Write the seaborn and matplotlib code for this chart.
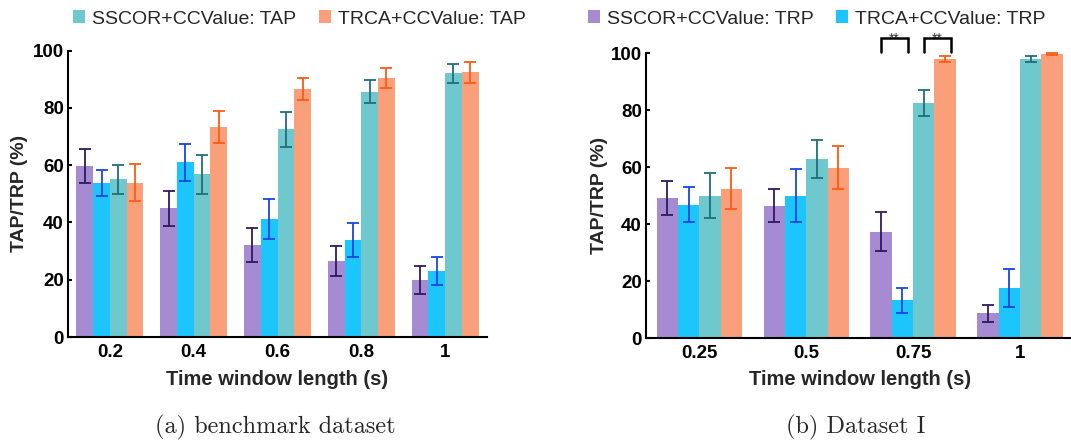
import matplotlib
matplotlib.use("Agg")
import matplotlib.pyplot as plt
import matplotlib.patches as mpatches
import numpy as np
import pandas as pd
import seaborn as sns

# ---- data -------------------------------------------------------------
methods = ["SSCOR+CCValue: TRP", "TRCA+CCValue: TRP",
           "SSCOR+CCValue: TAP", "TRCA+CCValue: TAP"]

# (a) benchmark dataset
windows_a = ["0.2", "0.4", "0.6", "0.8", "1"]
sscor_trp_a = [59.8, 45.0, 32.1, 26.6, 19.9]
trca_trp_a = [53.9, 61.0, 41.2, 33.9, 23.1]
sscor_tap_a = [55.1, 56.8, 72.5, 85.7, 92.1]
trca_tap_a = [53.9, 73.5, 86.6, 90.4, 92.5]
sscor_trp_err_a = [6.0, 6.1, 5.9, 5.3, 4.9]
trca_trp_err_a = [4.6, 6.5, 6.9, 6.0, 5.0]
sscor_tap_err_a = [5.1, 6.9, 6.1, 4.0, 3.4]
trca_tap_err_a = [6.5, 5.6, 3.7, 3.5, 3.7]

# (b) Dataset I
windows_b = ["0.25", "0.5", "0.75", "1"]
sscor_trp_b = [49.2, 46.5, 37.4, 8.7]
trca_trp_b = [46.8, 49.9, 13.3, 17.5]
sscor_tap_b = [49.9, 62.9, 82.6, 97.9]
trca_tap_b = [52.5, 59.8, 98.0, 99.8]
sscor_trp_err_b = [5.9, 5.7, 6.9, 3.0]
trca_trp_err_b = [6.2, 9.3, 4.4, 6.7]
sscor_tap_err_b = [7.9, 6.8, 4.5, 1.0]
trca_tap_err_b = [7.3, 7.5, 0.9, 0.3]

# significance marks: (window, method left, method right, text)
sig_b = [("0.75", 0, 1, "**"), ("0.75", 2, 3, "**")]

yticks = [0, 20, 40, 60, 80, 100]

bar_colors = ["#A68BD3", "#1DC5FD", "#6FC8CE", "#F9A07B"]
err_colors = ["#2D1B5E", "#1745E6", "#1F6F78", "#FF5B14"]


def long_frame(windows, series):
    rows = []
    for m, vals in zip(methods, series):
        for w, v in zip(windows, vals):
            rows.append({"window": w, "method": m, "value": v})
    return pd.DataFrame(rows)


df_a = long_frame(windows_a, [sscor_trp_a, trca_trp_a, sscor_tap_a, trca_tap_a])
df_b = long_frame(windows_b, [sscor_trp_b, trca_trp_b, sscor_tap_b, trca_tap_b])
errs_a = [sscor_trp_err_a, trca_trp_err_a, sscor_tap_err_a, trca_tap_err_a]
errs_b = [sscor_trp_err_b, trca_trp_err_b, sscor_tap_err_b, trca_tap_err_b]

# ---- style ------------------------------------------------------------
sns.set_style("ticks")
plt.rcParams["font.family"] = ["Liberation Sans", "DejaVu Sans"]

W, H = 1071, 444
AL, AR = 68.0, 487.0          # left panel x extent (px)
BL, BR = 646.0, 1073.3        # right panel x extent (px)
fig = plt.figure(figsize=(W / 100, H / 100), dpi=100)
ax_a = fig.add_axes([AL / W, (H - 337) / H, (AR - AL) / W, (337 - 50.7) / H])
ax_b = fig.add_axes([BL / W, (H - 338) / H, (BR - BL) / W, (338 - 53.3) / H])


def draw_panel(ax, df, windows, errs):
    sns.barplot(data=df, x="window", y="value", hue="method",
                order=windows, hue_order=methods, palette=bar_colors,
                saturation=1, errorbar=None, legend=False, width=0.8,
                linewidth=0, ax=ax)
    for cont, err, ec in zip(ax.containers, errs, err_colors):
        xs = [p.get_x() + p.get_width() / 2 for p in cont.patches]
        hs = [p.get_height() for p in cont.patches]
        ax.errorbar(xs, hs, yerr=err, fmt="none", ecolor=ec,
                    elinewidth=1.3, capsize=4.1, capthick=1.3,
                    clip_on=False, zorder=3)
    ax.set_ylim(0, 100)
    ax.set_yticks(yticks)
    ax.set_xlim(-0.5, len(windows) - 0.5)
    for s in ["top", "right"]:
        ax.spines[s].set_visible(False)
    for s in ["left", "bottom"]:
        ax.spines[s].set_linewidth(1.5)
        ax.spines[s].set_color("black")
    ax.tick_params(axis="both", direction="in", length=3, width=1.5,
                   labelsize=13.5, colors="black")
    ax.tick_params(axis="y", pad=3)
    ax.tick_params(axis="x", pad=5)
    for lab in ax.get_xticklabels() + ax.get_yticklabels():
        lab.set_fontweight("bold")
    ax.set_xlabel("Time window length (s)", fontsize=14.5, fontweight="bold")
    ax.set_ylabel("TAP/TRP (%)", fontsize=14, fontweight="bold")
    ax.xaxis.label.set_va("center")
    ax.yaxis.label.set_va("center")


draw_panel(ax_a, df_a, windows_a, errs_a)
draw_panel(ax_b, df_b, windows_b, errs_b)

ax_a.xaxis.set_label_coords(0.5, (337 - 379) / (337 - 50.7))
ax_a.yaxis.set_label_coords((20 - AL) / (AR - AL), 0.5)
ax_b.xaxis.set_label_coords(0.5, (338 - 379) / (338 - 53.3))
ax_b.yaxis.set_label_coords((599 - BL) / (BR - BL), 0.5)

# significance brackets
for w, i, j, txt in sig_b:
    k = windows_b.index(w)
    pl = ax_b.containers[i].patches[k]
    pr = ax_b.containers[j].patches[k]
    x0 = pl.get_x() + pl.get_width() / 2
    x1 = pr.get_x() + pr.get_width() * 0.78
    y0, y1 = 100.6, 105.3
    ax_b.plot([x0, x0, x1, x1], [y0, y1, y1, y0], color="black", lw=1.8,
              clip_on=False, solid_joinstyle="miter", zorder=4)
    ax_b.text((x0 + x1) / 2, 103.7, txt, ha="center", va="baseline",
              fontsize=10, color="#333333", clip_on=False)

# legends
def handles_for(idx):
    return [mpatches.Patch(facecolor=bar_colors[i], edgecolor="none",
                           label=methods[i]) for i in idx]


leg_kw = dict(loc="center left", ncol=2, frameon=False, fontsize=14,
              handlelength=0.62, handleheight=0.62, handletextpad=0.34,
              columnspacing=1.18, borderpad=0, borderaxespad=0)
fig.legend(handles=handles_for([2, 3]), bbox_to_anchor=(73.3 / W, 1 - 19 / H), **leg_kw)
fig.legend(handles=handles_for([0, 1]), bbox_to_anchor=(588 / W, 1 - 19 / H), **leg_kw)

# sub-captions
fig.text(275 / W, 1 - 427 / H, "(a) benchmark dataset", ha="center",
         va="center", fontsize=17.5, family="cmr10")
fig.text(856 / W, 1 - 427 / H, "(b) Dataset I", ha="center",
         va="center", fontsize=17.5, family="cmr10")

fig.savefig("out.png", dpi=100)
